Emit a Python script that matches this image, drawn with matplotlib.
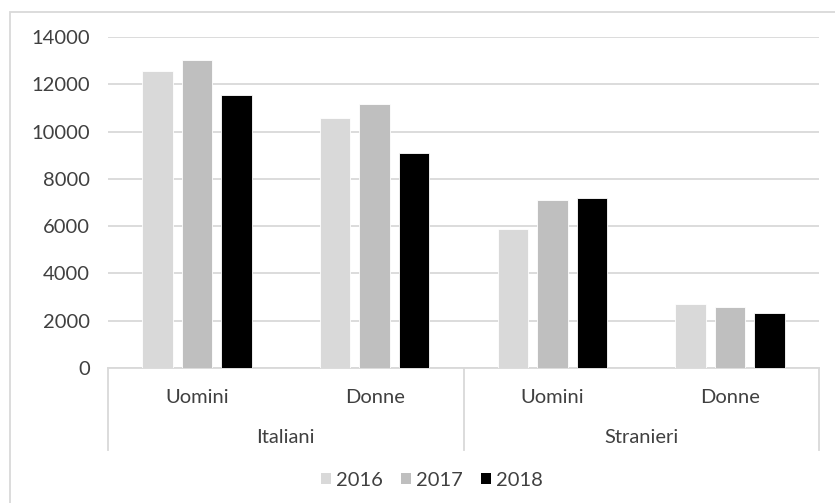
import numpy as np
import matplotlib
matplotlib.use("Agg")
import matplotlib.pyplot as plt
from matplotlib.patches import Patch, Rectangle

# sub-categories and their parent groups
categories = ["Uomini", "Donne", "Uomini", "Donne"]
groups = ["Italiani", "Stranieri"]
years = ["2016", "2017", "2018"]

v2016 = [12560, 10580, 5870, 2690]
v2017 = [13020, 11150, 7120, 2580]
v2018 = [11540, 9110, 7190, 2340]

colors = ["#d9d9d9", "#bfbfbf", "#000000"]
text_color = "#404040"
grid_color = "#d9d9d9"

plt.rcParams["font.family"] = ["Lato", "DejaVu Sans"]
fs = 14.5

fig = plt.figure(figsize=(8.35, 5.03), dpi=100)
W, H = 835, 503
ax = fig.add_axes([108 / W, (H - 368) / H, (819 - 108) / W, (368 - 37) / H])

x = np.arange(len(categories))
pitch = 0.2225
width = 0.172
for i, (vals, col) in enumerate(zip([v2016, v2017, v2018], colors)):
    ax.bar(x + (i - 1) * pitch, vals, width, color=col, edgecolor="white",
           linewidth=0.6, zorder=3, label=years[i])

ax.set_xlim(-0.5, len(categories) - 0.5)
ax.set_ylim(0, 14000)
ax.set_yticks(np.arange(0, 14001, 2000))
ax.yaxis.grid(True, color=grid_color, linewidth=1.3)
ax.set_axisbelow(True)
for s in ["top", "right", "left"]:
    ax.spines[s].set_visible(False)
ax.spines["bottom"].set_color(grid_color)
ax.spines["bottom"].set_linewidth(1.3)
ax.tick_params(axis="y", length=0, pad=13, labelsize=fs, labelcolor=text_color)
ax.tick_params(axis="x", length=0, labelbottom=False)

# two-level category labels below the axis
trans = ax.get_xaxis_transform()
for xi, name in zip(x, categories):
    ax.text(xi, -0.09, name, transform=trans, ha="center", va="center",
            fontsize=fs, color=text_color)
for gi, name in enumerate(groups):
    ax.text(2 * gi + 0.5, -0.21, name, transform=trans, ha="center",
            va="center", fontsize=fs, color=text_color)
for xs in [-0.5, 1.5, 3.5]:
    ax.plot([xs, xs], [0, -0.248], transform=trans, color=grid_color,
            linewidth=1.3, clip_on=False)

handles = [Patch(facecolor=c, edgecolor="none") for c in colors]
fig.legend(handles, years, loc="center", bbox_to_anchor=(432 / W, (H - 480) / H),
           ncol=3, frameon=False, fontsize=fs, labelcolor=text_color,
           handlelength=0.5, handleheight=0.5, handletextpad=0.25,
           columnspacing=0.9)

# outer chart frame
fig.add_artist(Rectangle((10 / W, -0.1), 1.0, (H - 12) / H + 0.1,
                         transform=fig.transFigure, fill=False,
                         edgecolor=grid_color, linewidth=1.3))

fig.savefig("out.png", dpi=100, facecolor="white")
